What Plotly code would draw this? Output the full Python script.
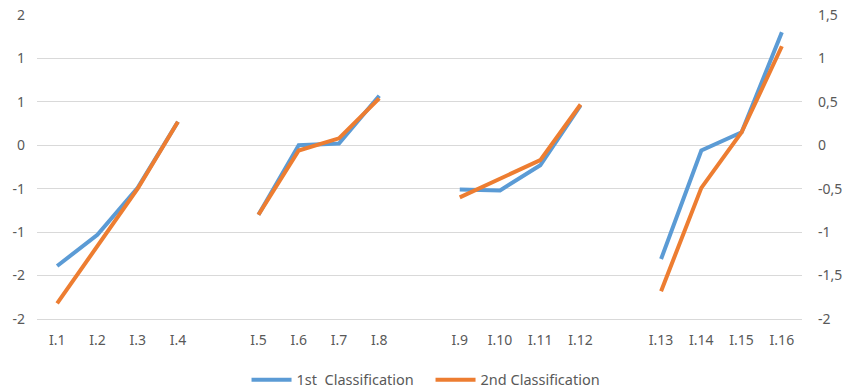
import plotly.graph_objects as go

categories = ["I.1", "I.2", "I.3", "I.4", " ",
              "I.5", "I.6", "I.7", "I.8", "  ",
              "I.9", "I.10", "I.11", "I.12", "   ",
              "I.13", "I.14", "I.15", "I.16"]
first_class = [-1.39, -1.03, -0.49, 0.27, None,
               -0.80, 0.00, 0.02, 0.57, None,
               -0.51, -0.52, -0.23, 0.46, None,
               -1.31, -0.06, 0.15, 1.30]
second_class = [-1.82, -1.15, -0.50, 0.27, None,
                -0.80, -0.06, 0.08, 0.54, None,
                -0.60, -0.39, -0.17, 0.47, None,
                -1.68, -0.49, 0.15, 1.14]
tick_vals = [-2, -1.5, -1, -0.5, 0, 0.5, 1, 1.5]
left_labels = ["-2", "-2", "-1", "-1", "0", "1", "1", "2"]
right_labels = ["-2", "-1,5", "-1", "-0,5", "0", "0,5", "1", "1,5"]

BLUE = "#5B9BD5"
ORANGE = "#ED7D31"
TXT = "#595959"
FONT = "Noto Sans, Open Sans, sans-serif"

fig = go.Figure()
fig.add_trace(go.Scatter(x=categories, y=first_class, mode="lines",
                         name="1st\u00a0 Classification",
                         line=dict(color=BLUE, width=4), connectgaps=False))
fig.add_trace(go.Scatter(x=categories, y=second_class, mode="lines",
                         name="2nd Classification", yaxis="y2",
                         line=dict(color=ORANGE, width=4), connectgaps=False))

fig.update_layout(
    width=849, height=389,
    margin=dict(l=37, r=47, t=15, b=70, autoexpand=False),
    paper_bgcolor="white", plot_bgcolor="white",
    font=dict(family=FONT, size=14, color=TXT),
    showlegend=True,
    legend=dict(orientation="h", xref="container", yref="paper",
                x=0.5071, xanchor="center", y=-0.2, yanchor="middle",
                entrywidth=129, entrywidthmode="pixels",
                font=dict(size=14.5, color=TXT), itemwidth=40, tracegroupgap=0),
    xaxis=dict(type="category", categoryorder="array", categoryarray=categories,
               range=[-0.5, 18.5], showgrid=False, zeroline=False, automargin=False,
               showline=True, linecolor="#D9D9D9", ticks="", ticklabelstandoff=8,
               tickfont=dict(size=14, color=TXT), fixedrange=True),
    yaxis=dict(range=[-2, 1.5], tickvals=tick_vals, ticktext=left_labels, automargin=False,
               showgrid=True, gridcolor="#D9D9D9", gridwidth=1, zeroline=False,
               showline=False, ticks="", ticklabelstandoff=11,
               tickfont=dict(size=14, color=TXT), fixedrange=True),
    yaxis2=dict(range=[-2, 1.5], tickvals=tick_vals, ticktext=right_labels, automargin=False,
                overlaying="y", side="right", showgrid=False, zeroline=False,
                showline=False, ticks="", ticklabelstandoff=15,
                tickfont=dict(size=14, color=TXT), fixedrange=True),
)

fig.write_html("out.html", config={"displayModeBar": False},
               post_script="document.body.style.margin='0';")
